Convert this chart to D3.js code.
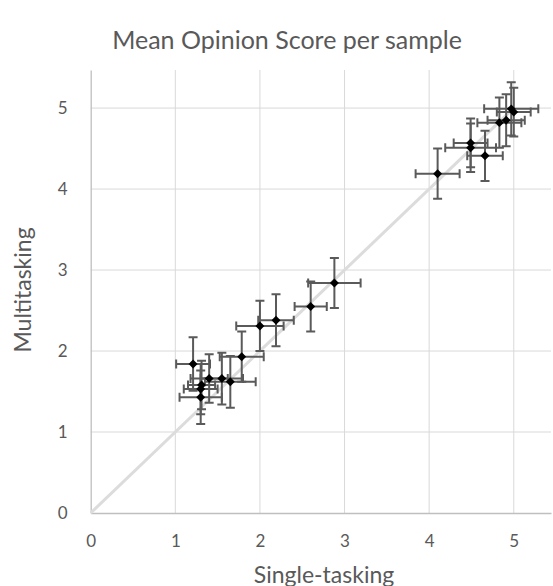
<!DOCTYPE html>
<html>
<head>
<meta charset="utf-8">
<script src="https://cdn.jsdelivr.net/npm/d3@7"></script>
<style>
  html, body { margin: 0; padding: 0; background: #fff; }
  svg text { font-family: Lato, "Open Sans", sans-serif; fill: #595959; }
</style>
</head>
<body>
<svg id="chart" width="553" height="586"></svg>
<script>
// Mean opinion score, single-tasking (x) vs multitasking (y)
const singleTask = [4.10, 4.49, 4.49, 4.66, 4.83, 4.91, 4.97, 5.00,
                    2.00, 2.19, 2.60, 2.88,
                    1.21, 1.785, 1.40, 1.55, 1.65, 1.31, 1.30, 1.30];
const multiTask  = [4.19, 4.57, 4.51, 4.41, 4.82, 4.85, 4.99, 4.95,
                    2.31, 2.38, 2.55, 2.84,
                    1.84, 1.93, 1.66, 1.66, 1.62, 1.58, 1.53, 1.43];
const singleErr  = [0.26, 0.20, 0.30, 0.21, 0.26, 0.22, 0.32, 0.20,
                    0.28, 0.21, 0.19, 0.31,
                    0.20, 0.26, 0.22, 0.25, 0.30, 0.16, 0.20, 0.25];
const multiErr   = [0.31, 0.30, 0.30, 0.31, 0.31, 0.32, 0.33, 0.30,
                    0.31, 0.32, 0.31, 0.31,
                    0.33, 0.31, 0.30, 0.32, 0.32, 0.30, 0.31, 0.33];
const tickValues = [0, 1, 2, 3, 4, 5];
const diagonal   = [0, 5];

const points = singleTask.map((v, i) => ({
  x: v, y: multiTask[i], ex: singleErr[i], ey: multiErr[i]
}));

const svg = d3.select('#chart');

// scales (plot area is cropped on the right/top like the original)
const x = d3.scaleLinear().domain([0, 5.44]).range([90.7, 551]);
const y = d3.scaleLinear().domain([0, 5.47]).range([513, 70]);

// title
svg.append('text')
  .attr('x', 287).attr('y', 49)
  .attr('text-anchor', 'middle')
  .style('font-size', '25px')
  .text('Mean Opinion Score per sample');

// gridlines
svg.append('g')
  .selectAll('line')
  .data(tickValues.slice(1))
  .join('line')
  .attr('x1', d => x(d)).attr('x2', d => x(d))
  .attr('y1', y.range()[1]).attr('y2', y(0))
  .attr('stroke', '#d9d9d9').attr('stroke-width', 1);

svg.append('g')
  .selectAll('line')
  .data(tickValues.slice(1))
  .join('line')
  .attr('x1', x(0)).attr('x2', x.range()[1])
  .attr('y1', d => y(d)).attr('y2', d => y(d))
  .attr('stroke', '#d9d9d9').attr('stroke-width', 1);

// axes
const xAxis = svg.append('g')
  .attr('transform', `translate(0,${y(0)})`)
  .call(d3.axisBottom(x).tickValues(tickValues).tickSize(0).tickPadding(22).tickFormat(d3.format('d')));
const yAxis = svg.append('g')
  .attr('transform', `translate(${x(0)},0)`)
  .call(d3.axisLeft(y).tickValues(tickValues).tickSize(0).tickPadding(23).tickFormat(d3.format('d')));

[xAxis, yAxis].forEach(a => {
  a.select('.domain').attr('stroke', '#bfbfbf').attr('stroke-width', 1.3);
  a.selectAll('text').style('font-size', '17px').attr('fill', '#595959')
    .style('font-family', 'Lato, "Open Sans", sans-serif');
});

// axis titles
svg.append('text')
  .attr('x', 324).attr('y', 583)
  .attr('text-anchor', 'middle')
  .style('font-size', '23px')
  .text('Single-tasking');

svg.append('text')
  .attr('transform', `translate(31,290) rotate(-90)`)
  .attr('text-anchor', 'middle')
  .style('font-size', '23px')
  .text('Multitasking');

// diagonal y = x
svg.append('line')
  .attr('x1', x(diagonal[0])).attr('y1', y(diagonal[0]))
  .attr('x2', x(diagonal[1])).attr('y2', y(diagonal[1]))
  .attr('stroke', '#dcdcdc').attr('stroke-width', 3);

// error bars
const cap = 4.5;
const bars = svg.append('g')
  .attr('stroke', '#5a5a5a').attr('stroke-width', 2).attr('fill', 'none');

points.forEach(p => {
  const cx = x(p.x), cy = y(p.y);
  const x0 = x(p.x - p.ex), x1 = x(p.x + p.ex);
  const y0 = y(p.y - p.ey), y1 = y(p.y + p.ey);
  bars.append('path').attr('d',
    `M${x0},${cy}H${x1}` +
    `M${x0},${cy - cap}V${cy + cap}M${x1},${cy - cap}V${cy + cap}` +
    `M${cx},${y0}V${y1}` +
    `M${cx - cap},${y0}H${cx + cap}M${cx - cap},${y1}H${cx + cap}`);
});

// diamond markers
svg.append('g')
  .selectAll('path')
  .data(points)
  .join('path')
  .attr('d', d3.symbol(d3.symbolSquare, 40))
  .attr('transform', d => `translate(${x(d.x)},${y(d.y)}) rotate(45)`)
  .attr('fill', '#000');
</script>
</body>
</html>
